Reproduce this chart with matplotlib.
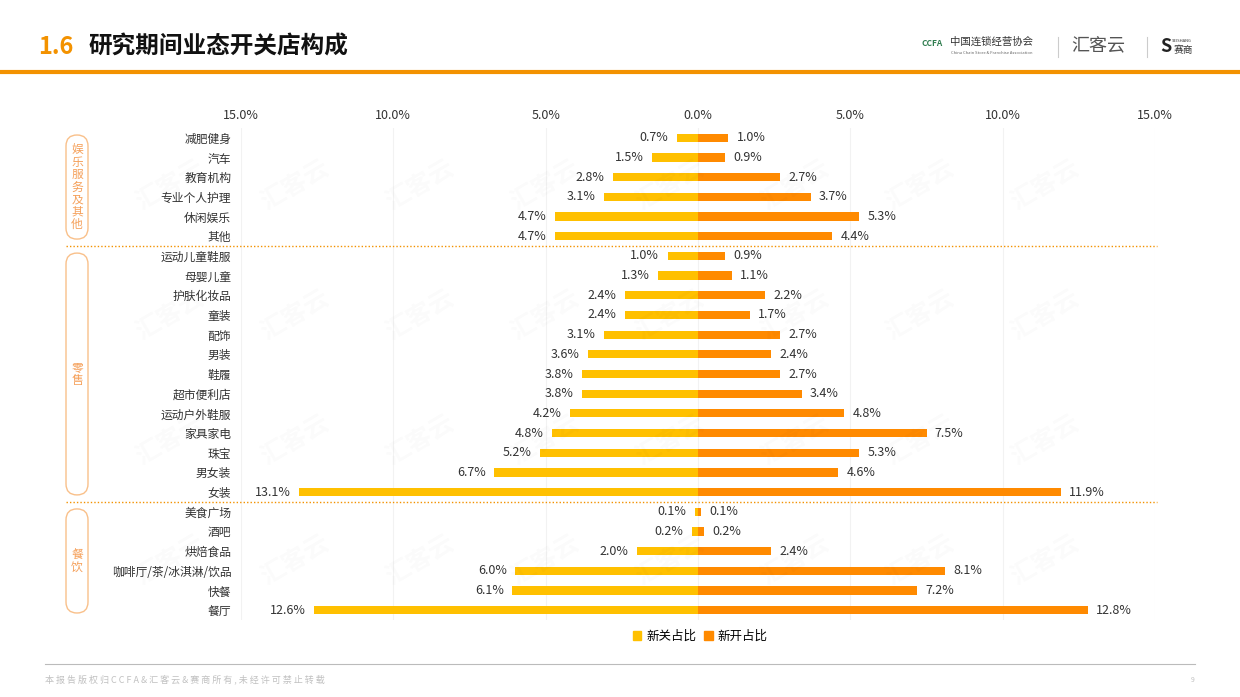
import matplotlib.pyplot as plt
import numpy as np
from matplotlib.patches import FancyBboxPatch
from matplotlib.lines import Line2D

plt.rcParams['font.family'] = ['Noto Sans CJK SC', 'DejaVu Sans']

categories = ['减肥健身', '汽车', '教育机构', '专业个人护理', '休闲娱乐', '其他',
              '运动儿童鞋服', '母婴儿童', '护肤化妆品', '童装', '配饰', '男装', '鞋履',
              '超市便利店', '运动户外鞋服', '家具家电', '珠宝', '男女装', '女装',
              '美食广场', '酒吧', '烘焙食品', '咖啡厅/茶/冰淇淋/饮品', '快餐', '餐厅']
close_pct = [0.7, 1.5, 2.8, 3.1, 4.7, 4.7,
             1.0, 1.3, 2.4, 2.4, 3.1, 3.6, 3.8, 3.8, 4.2, 4.8, 5.2, 6.7, 13.1,
             0.1, 0.2, 2.0, 6.0, 6.1, 12.6]
open_pct = [1.0, 0.9, 2.7, 3.7, 5.3, 4.4,
            0.9, 1.1, 2.2, 1.7, 2.7, 2.4, 2.7, 3.4, 4.8, 7.5, 5.3, 4.6, 11.9,
            0.1, 0.2, 2.4, 8.1, 7.2, 12.8]
groups = ['娱乐服务及其他', '零售', '餐饮']
group_sizes = [6, 13, 6]
xticks = [-15, -10, -5, 0, 5, 10, 15]

c_close = '#FFC000'
c_open = '#FF8A00'
orange = '#F39200'

W, H = 1240, 697
fig = plt.figure(figsize=(W / 100, H / 100), dpi=100)
ax = fig.add_axes([241 / W, 1 - 620 / H, 914 / W, 492 / H])

y = np.arange(len(categories))
h = 0.42
ax.barh(y, -np.array(close_pct), height=h, color=c_close, zorder=3)
ax.barh(y, open_pct, height=h, color=c_open, zorder=3)

for yi, c, o in zip(y, close_pct, open_pct):
    ax.annotate(f'{c:.1f}%', (-c, yi), xytext=(-6, 0), textcoords='offset points',
                ha='right', va='center', fontsize=9, color='#333333')
    ax.annotate(f'{o:.1f}%', (o, yi), xytext=(6, 0), textcoords='offset points',
                ha='left', va='center', fontsize=9, color='#333333')

ax.set_xlim(-15, 15)
ax.set_ylim(len(categories) - 0.5, -0.5)
ax.set_xticks(xticks)
ax.set_xticklabels([f'{abs(t):.1f}%' for t in xticks], fontsize=9, color='#333333')
ax.xaxis.tick_top()
ax.tick_params(axis='x', length=0, pad=4)
ax.set_yticks(y)
ax.set_yticklabels(categories, fontsize=8.5, color='#333333')
ax.tick_params(axis='y', length=0, pad=7)
for s in ax.spines.values():
    s.set_visible(False)
ax.grid(axis='x', color='#f2f2f2', linewidth=0.8, zorder=0)
ax.set_axisbelow(True)

# group separators and rounded label boxes (drawn in pixel coords)
start = 0
for gi, (g, n) in enumerate(zip(groups, group_sizes)):
    y0 = ax.transData.transform((0, start - 0.5))[1]
    y1 = ax.transData.transform((0, start + n - 0.5))[1]
    if gi > 0:
        fig.add_artist(Line2D([66 / W, 1157 / W], [y0 / H, y0 / H], color=orange,
                              linestyle=(0, (1, 1.5)), linewidth=1))
    top = y0 - 7
    bot = y1 + 7
    box = FancyBboxPatch((66, bot), 22, top - bot,
                         boxstyle='round,pad=0,rounding_size=11',
                         transform=None, fill=False,
                         edgecolor='#F9C08A', linewidth=1)
    fig.add_artist(box)
    fig.text(77 / W, (top + bot) / 2 / H, '\n'.join(g), ha='center', va='center',
             fontsize=8.5, color='#F5A05A', linespacing=0.95)
    start += n

# watermarks
for wy in [185, 315, 440, 560]:
    for wx in [170, 295, 420, 545, 670, 795, 920, 1045]:
        fig.text(wx / W, 1 - wy / H, '汇客云', rotation=30, fontsize=18,
                 fontweight='bold', color='#000000', alpha=0.018,
                 ha='center', va='center')

# legend
handles = [plt.Rectangle((0, 0), 1, 1, color=c_close), plt.Rectangle((0, 0), 1, 1, color=c_open)]
fig.legend(handles, ['新关占比', '新开占比'], loc='center', bbox_to_anchor=(700 / W, 1 - 636 / H),
           ncol=2, frameon=False, fontsize=9, handlelength=0.7, handleheight=0.7,
           handletextpad=0.4, columnspacing=0.6)

# header
fig.text(38 / W, 1 - 47 / H, '1.6', fontsize=17, fontweight='bold', color=orange,
         ha='left', va='center')
fig.text(88 / W, 1 - 47 / H, '研究期间业态开关店构成', fontsize=17, fontweight='bold',
         color='#111111', ha='left', va='center')
fig.add_artist(Line2D([0, 1], [1 - 72 / H, 1 - 72 / H], color=orange, linewidth=3))

# logos (approximated as text)
fig.text(922 / W, 1 - 44 / H, 'CCFA', fontsize=6, color='#2f7d4f', fontweight='bold',
         ha='left', va='center')
fig.text(950 / W, 1 - 42 / H, '中国连锁经营协会', fontsize=7.5, color='#333333',
         ha='left', va='center')
fig.text(951 / W, 1 - 53 / H, 'China Chain Store & Franchise Association', fontsize=3,
         color='#666666', ha='left', va='center')
fig.add_artist(Line2D([1058 / W, 1058 / W], [1 - 37 / H, 1 - 57 / H], color='#cccccc', linewidth=0.8))
fig.text(1071 / W, 1 - 46 / H, '汇客云', fontsize=13, color='#555555',
         ha='left', va='center')
fig.add_artist(Line2D([1147 / W, 1147 / W], [1 - 37 / H, 1 - 57 / H], color='#cccccc', linewidth=0.8))
fig.text(1160 / W, 1 - 46 / H, 'S', fontsize=13, fontweight='bold', color='#222222',
         ha='left', va='center')
fig.text(1172 / W, 1 - 41 / H, 'SEISHANG', fontsize=3, color='#333333', ha='left', va='center')
fig.text(1174 / W, 1 - 50 / H, '赛商', fontsize=7, color='#333333', ha='left', va='center')

# footer
fig.add_artist(Line2D([45 / W, 1195 / W], [1 - 664 / H, 1 - 664 / H], color='#bbbbbb', linewidth=0.8))
fig.text(45 / W, 1 - 679 / H, '本 报 告 版 权 归 C C F A & 汇 客 云 & 赛 商 所 有 , 未 经 许 可 禁 止 转 载',
         fontsize=6.5, color='#c0c0c0', ha='left', va='center')
fig.text(1193 / W, 1 - 680 / H, '9', fontsize=5, color='#c0c0c0', ha='center', va='center')

fig.savefig('out.png', dpi=100)
